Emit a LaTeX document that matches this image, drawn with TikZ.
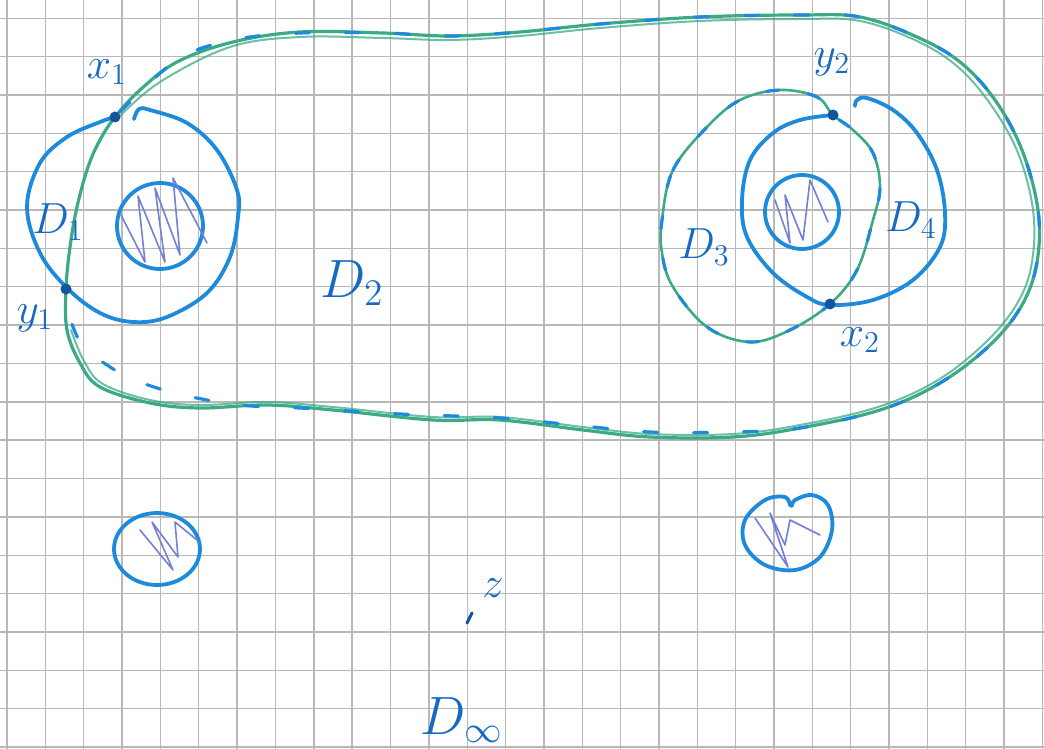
\documentclass[tikz,border=0pt]{standalone}
\usepackage{xcolor}
\usepackage{tikz}
\usetikzlibrary{calc,positioning}
\definecolor{PenBlue}{HTML}{1E8ADB}
\definecolor{InkBlue}{HTML}{1769C2}
\definecolor{DotBlue}{HTML}{14549E}
\definecolor{PenGreen}{HTML}{3CAA86}
\definecolor{HatchViolet}{HTML}{7480D6}
\definecolor{GridGrey}{HTML}{B8B8B8}

\tikzset{
  bluepen/.style={draw=PenBlue, line width=3.8pt, line cap=round, line join=round},
  greenpen/.style={draw=PenGreen, line width=3.2pt, line cap=round, line join=round},
  bluedash/.style={draw=PenBlue, line width=3.2pt, line cap=round, dash pattern=on 14pt off 36pt},
  hatchpen/.style={draw=HatchViolet, line width=1.6pt, line cap=round, line join=round},
  lbl/.style={text=InkBlue, font=\huge, inner sep=0pt, scale=2.1},
  biglbl/.style={text=InkBlue, font=\huge, inner sep=0pt, scale=2.6},
  pt/.style={circle, fill=DotBlue, inner sep=0pt, minimum size=11pt},
}

\begin{document}
\begin{tikzpicture}[x=1pt, y=-1pt]
\useasboundingbox (0,0) rectangle (1044,749);
\fill[white] (0,0) rectangle (1044,749);
% squared paper
\foreach \i in {0,...,27}
  \draw[GridGrey, line width=1.4pt] ({7+38.35*\i},0) -- ++(0,749);
\foreach \j in {0,...,19}
  \draw[GridGrey, line width=1.4pt] (0,{18.3+38.35*\j}) -- ++(1044,0);

% outer domain
\draw[greenpen] plot[smooth cycle, tension=0.6] coordinates {
  (115,117) (140,90) (177,62) (233,42) (300,32) (383,33) (450,36) (520,32)
  (600,24) (700,17) (800,15) (860,17) (917,37) (960,62) (995,100) (1022,150)
  (1038,210) (1037,262) (1022,305) (990,345) (940,383) (880,410) (800,428)
  (733,437) (650,437) (583,430) (500,420) (433,420) (333,410) (267,405)
  (200,408) (150,403) (100,387) (80,363) (67,330) (66,289) (70,247) (77,207)
  (88,167) (100,140)};
\draw[greenpen, line width=2pt, opacity=0.75] plot[smooth, tension=0.6] coordinates {
  (120,116) (160,82) (230,47) (300,37) (383,38) (450,40) (520,36) (600,28)
  (700,21) (800,19) (860,21) (917,41) (958,67) (991,105) (1018,153)
  (1033,210) (1032,262) (1018,302) (987,341) (938,380) (878,407) (800,425)
  (733,434) (650,434) (583,427) (500,417) (433,417) (333,407) (267,402)
  (200,405) (150,400) (103,384) (84,361) (71,330)};
\draw[bluedash] plot[smooth, tension=0.6] coordinates {
  (120,112) (177,60) (233,40) (300,33) (383,33) (450,36) (520,32) (600,24)
  (700,17) (800,15) (860,17) (917,37) (960,62) (995,100) (1022,150)
  (1038,210) (1037,262) (1022,305) (990,345) (940,383) (880,410) (800,428)
  (733,432) (650,432) (583,426) (500,418) (400,414) (300,408) (240,405)
  (183,395) (137,381) (107,365) (82,345) (70,318)};

% D1
\draw[bluepen] plot[smooth, tension=0.6] coordinates {
  (134,119) (139,109) (150,110) (187,123) (217,150) (237,190) (238,217)
  (230,257) (207,293) (167,317) (133,322) (100,313) (67,288) (40,253)
  (27,207) (40,163) (67,137) (100,122) (115,117)};
\draw[bluepen] (160,226) circle (43);
\draw[hatchpen] (121,215) -- (145,262) -- (138,196) -- (165,262) -- (155,188)
  -- (180,255) -- (173,178) -- (207,243);

% D3 and D4
\draw[greenpen, line width=2.6pt] plot[smooth cycle, tension=0.6] coordinates {
  (662,220) (673,170) (707,127) (740,100) (780,90) (817,97) (833,115)
  (853,130) (873,153) (880,187) (873,220) (857,270) (830,304) (790,330)
  (750,342) (707,327) (673,287) (662,253)};
\draw[bluedash, dash pattern=on 12pt off 30pt] plot[smooth cycle, tension=0.6] coordinates {
  (662,220) (673,170) (707,127) (740,100) (780,90) (817,97) (833,115)
  (853,130) (873,153) (880,187) (873,220) (857,270) (830,304) (790,330)
  (750,342) (707,327) (673,287) (662,253)};
\draw[bluepen] plot[smooth, tension=0.6] coordinates {
  (833,115) (800,120) (773,133) (750,160) (742,200) (747,237) (773,273)
  (807,297) (830,305) (873,300) (913,280) (940,247) (945,213) (937,170)
  (917,133) (893,110) (867,98) (857,100) (855,106)};
\draw[bluepen] (802,212) circle (37);
\draw[hatchpen] (775,200) -- (790,243) -- (785,195) -- (803,240) -- (810,180)
  -- (828,222);

% outside obstacles
\draw[bluepen] (157,549) ellipse (43 and 36);
\draw[hatchpen] (140,530) -- (173,570) -- (152,522) -- (178,557) -- (175,522)
  -- (197,540);
\draw[bluepen] plot[smooth cycle, tension=0.6] coordinates {
  (795,500) (812,495) (828,505) (832,530) (820,557) (795,570) (765,565)
  (745,545) (745,520) (765,500) (785,497) (791,506)};
\draw[hatchpen] (755,518) -- (788,567) -- (770,513) -- (785,545) -- (790,520)
  -- (820,535);

% points
\node[pt] (x1) at (115,117) {};
\node[pt] (y1) at (66,289) {};
\node[pt] (y2) at (833,115) {};
\node[pt] (x2) at (830,304) {};
\draw[DotBlue, line width=3pt, line cap=round] (467,623) -- (472,613);

% labels
\node[lbl] (x1lbl) at (107,72) {$x_1$};
\node[lbl] (y1lbl) at (35,318) {$y_1$};
\node[lbl] (D1lbl) at (58,222) {$D_1$};
\node[biglbl] (D2lbl) at (352,283) {$D_2$};
\node[lbl] (y2lbl) at (832,62) {$y_2$};
\node[lbl] (x2lbl) at (860,340) {$x_2$};
\node[lbl] (D3lbl) at (704,247) {$D_3$};
\node[lbl] (D4lbl) at (911,220) {$D_4$};
\node[lbl] (zlbl) at (493,588) {$z$};
\node[biglbl] (Dinflbl) at (462,720) {$D_\infty$};
\end{tikzpicture}
\end{document}
